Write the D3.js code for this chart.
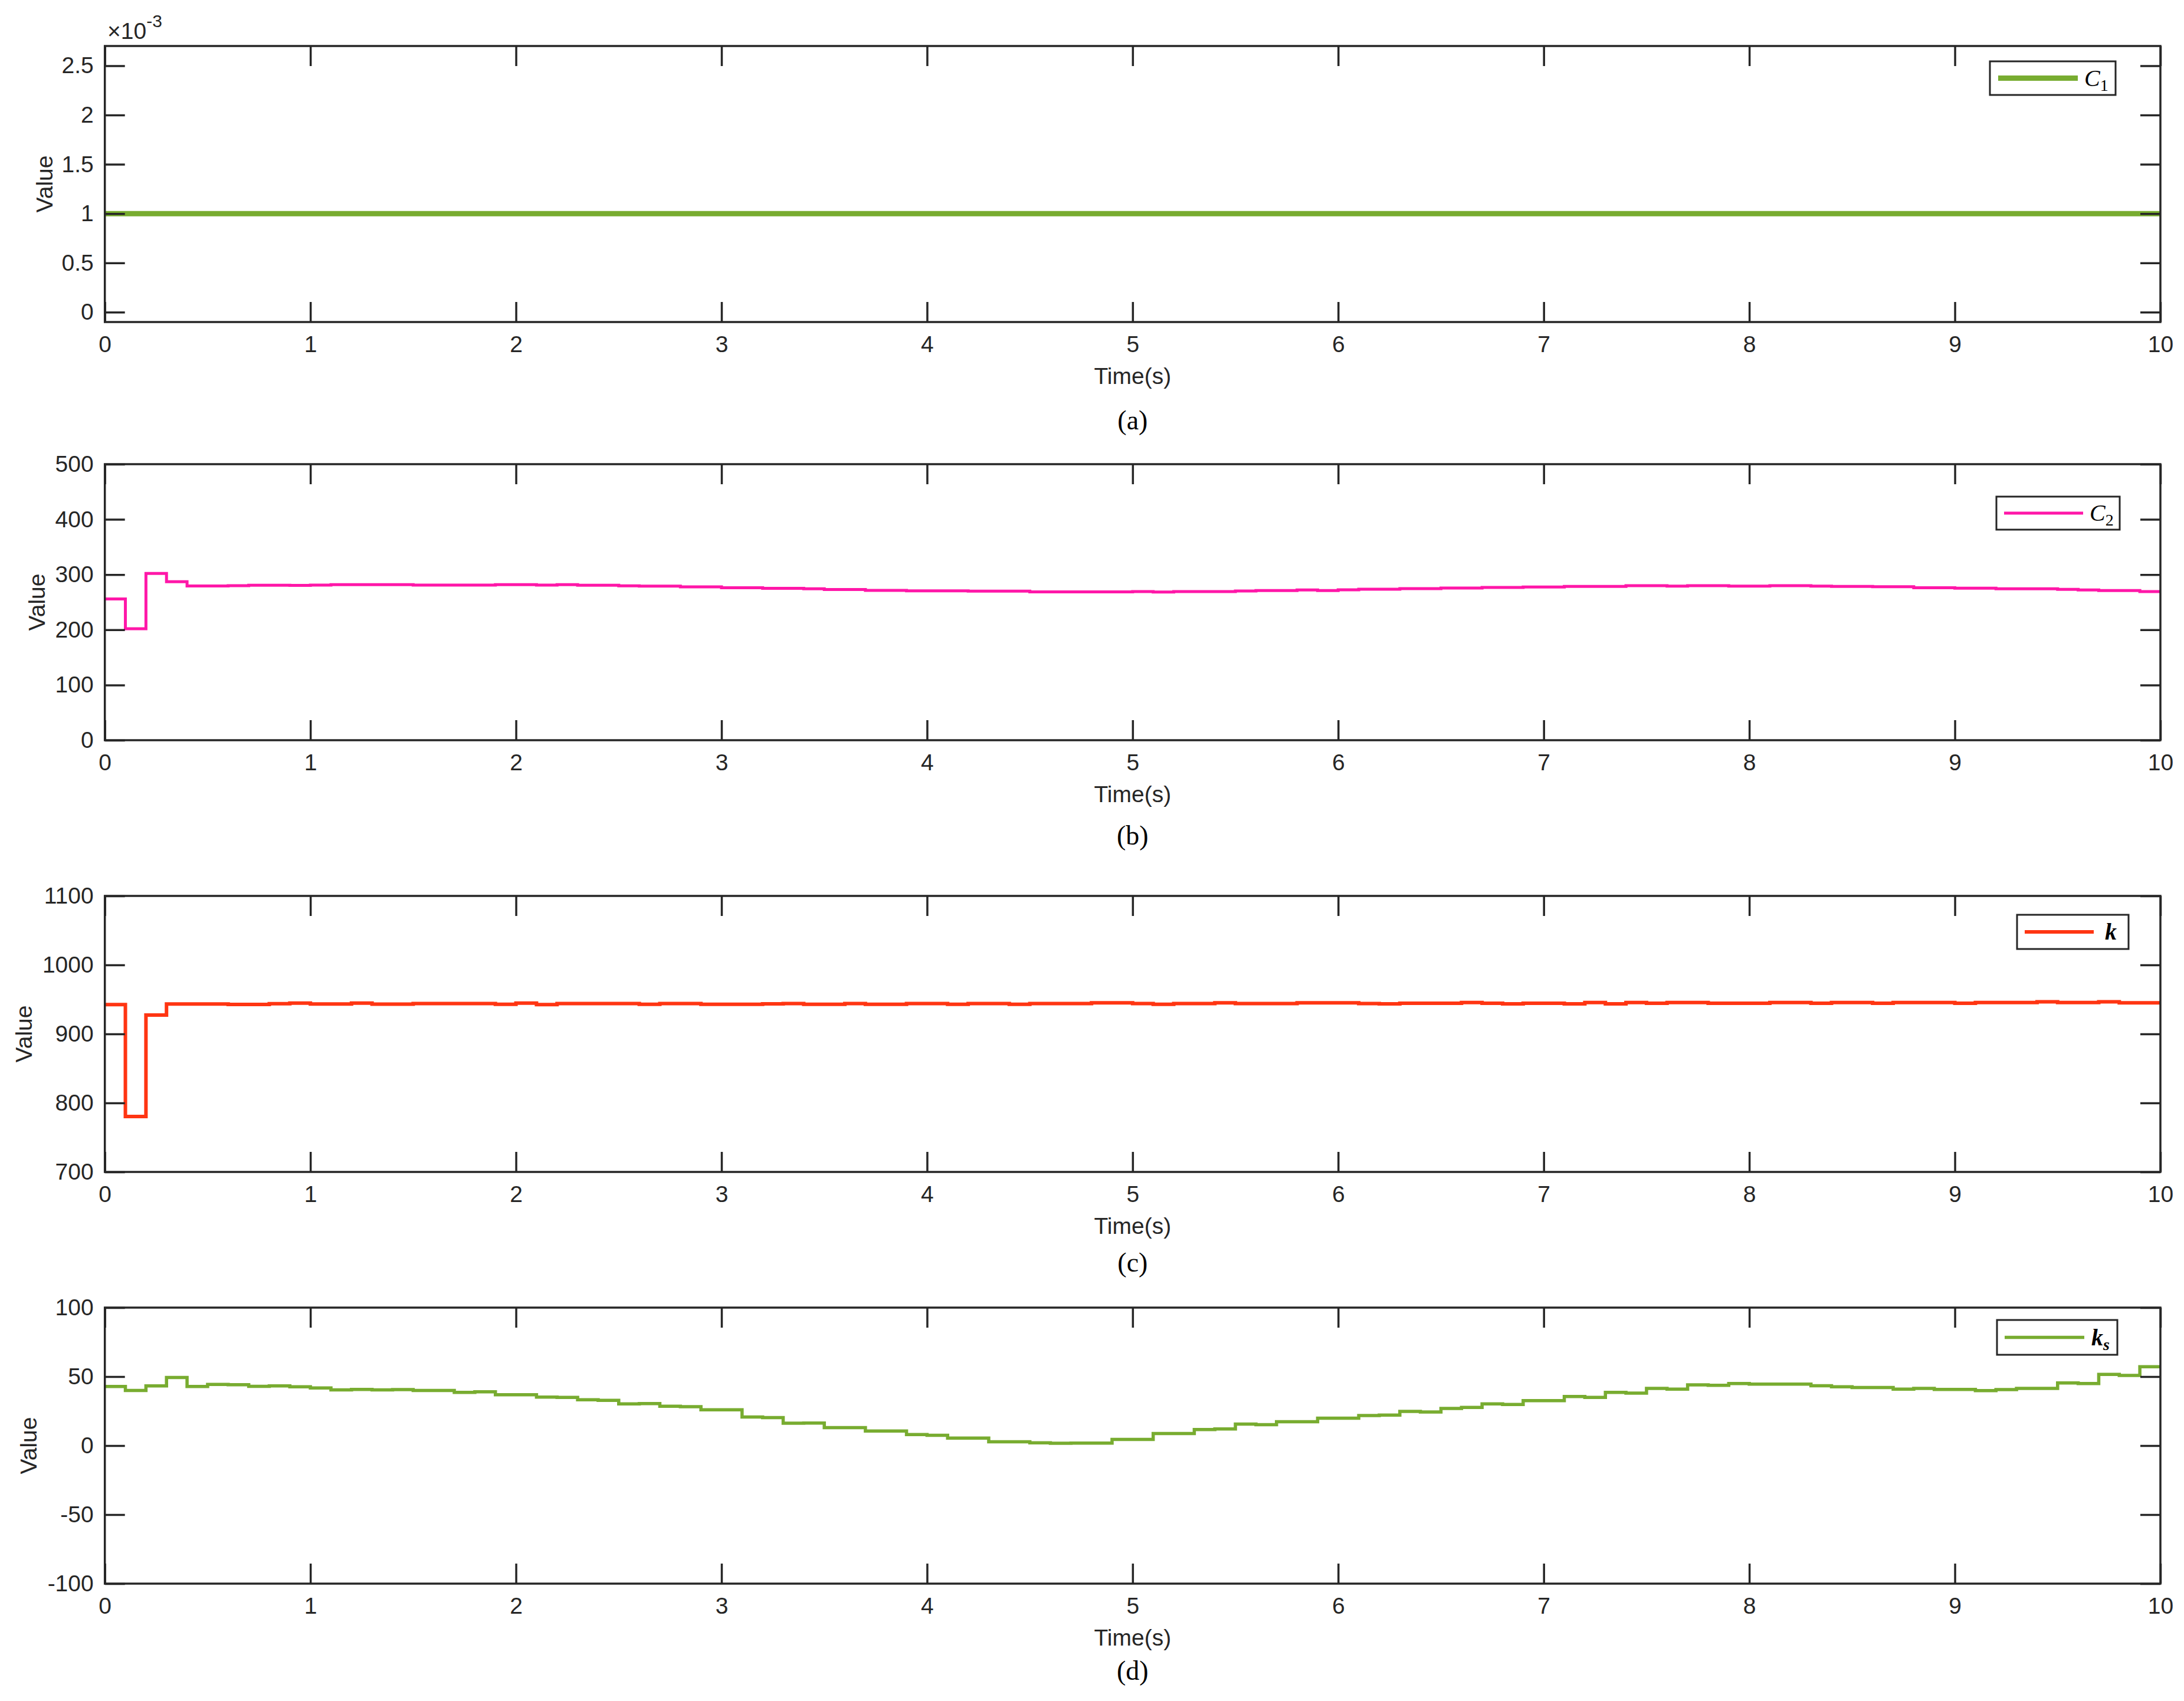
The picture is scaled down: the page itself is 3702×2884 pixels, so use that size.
<!DOCTYPE html>
<html><head><meta charset="utf-8">
<script src="https://cdn.jsdelivr.net/npm/d3@7"></script>
<style>body{margin:0;background:#fff}</style>
</head><body>
<svg id="chart" width="3702" height="2884" xmlns="http://www.w3.org/2000/svg"></svg>
<script>
// ---------------- DATA ----------------
const xTicks = [0, 1, 2, 3, 4, 5, 6, 7, 8, 9, 10];
const xDomain = [0, 10];
// zero-order-hold samples every 0.1 s (step start times)
const sampleTimes = d3.range(0, 100).map(i => i / 10);

const c1Times = [0, 10];
const c1Values = [0.001, 0.001];

const c2Values = [
  256, 202, 302, 287, 279.5, 279.5, 279.9, 280.6, 280.6, 280.4,
  280.9, 281.8, 281.8, 281.8, 281.8, 281.1, 281.1, 281.1, 280.9, 281.8,
  281.8, 280.9, 281.8, 280.6, 280.6, 279.7, 279.0, 279.0, 277.9, 277.9,
  276.3, 276.3, 275.2, 275.2, 274.3, 272.9, 272.9, 271.5, 271.5, 270.6,
  270.6, 270.6, 269.9, 269.9, 269.9, 268.8, 268.8, 268.8, 268.8, 268.8,
  269.3, 268.3, 269.2, 269.2, 269.2, 270.3, 271.1, 271.1, 272.2, 271.0,
  272.4, 273.5, 273.5, 274.5, 274.5, 275.6, 275.6, 276.7, 276.7, 277.5,
  277.5, 278.6, 278.6, 278.6, 280.0, 280.0, 279.2, 280.0, 280.0, 279.0,
  279.0, 280.0, 280.0, 279.0, 278.5, 278.5, 278.0, 278.0, 276.3, 276.3,
  275.4, 275.4, 274.4, 274.4, 274.4, 273.3, 272.2, 271.1, 271.1, 269.3
];

const kValues = [
  942.6, 780.3, 927.4, 943.3, 943.4, 943.4, 942.8, 942.8, 943.9, 944.7,
  943.4, 943.4, 944.7, 943.2, 943.2, 944.0, 944.0, 944.0, 944.0, 943.0,
  944.7, 942.5, 944.0, 944.0, 944.0, 944.0, 943.0, 944.0, 944.0, 943.0,
  943.0, 943.0, 943.5, 944.0, 943.0, 943.0, 944.0, 943.0, 943.0, 944.0,
  944.0, 943.0, 944.0, 944.0, 943.0, 944.0, 944.0, 944.0, 945.0, 945.0,
  944.0, 943.0, 944.0, 944.0, 945.0, 944.0, 944.0, 944.0, 945.0, 945.0,
  945.0, 944.0, 943.5, 944.5, 944.5, 944.5, 945.5, 944.5, 943.5, 944.5,
  944.5, 943.5, 945.5, 943.5, 945.5, 944.5, 945.5, 945.5, 944.5, 944.5,
  944.5, 945.5, 945.5, 944.5, 945.5, 945.5, 944.5, 945.5, 945.5, 945.5,
  944.5, 945.5, 945.5, 945.5, 946.5, 945.5, 945.5, 946.5, 945.0, 945.0
];

const ksValues = [
  42.8, 40.0, 43.3, 49.4, 42.8, 44.3, 44.1, 43.0, 43.3, 42.6,
  41.8, 40.4, 40.7, 40.4, 40.6, 40.0, 40.0, 38.6, 39.0, 36.9,
  36.9, 35.2, 34.9, 33.2, 32.8, 30.2, 30.5, 28.5, 28.2, 26.0,
  26.0, 20.7, 20.3, 16.2, 16.3, 13.0, 13.0, 10.6, 10.6, 8.0,
  7.5, 5.4, 5.4, 2.8, 2.8, 2.0, 1.7, 1.8, 1.8, 4.5,
  4.5, 8.8, 8.8, 11.6, 12.1, 15.6, 15.2, 17.3, 17.3, 19.9,
  19.9, 21.8, 22.1, 24.8, 24.4, 26.9, 27.7, 30.2, 29.8, 32.6,
  32.6, 35.6, 34.9, 38.6, 38.0, 41.4, 40.9, 44.0, 43.7, 45.0,
  44.5, 44.5, 44.5, 43.4, 42.6, 42.1, 42.1, 40.9, 41.4, 40.7,
  40.7, 39.9, 40.6, 41.4, 41.4, 45.4, 45.0, 51.6, 50.9, 57.2
];

const c1Ticks = [0, 0.0005, 0.001, 0.0015, 0.002, 0.0025];
const c2Ticks = [0, 100, 200, 300, 400, 500];
const kTicks = [700, 800, 900, 1000, 1100];
const ksTicks = [-100, -50, 0, 50, 100];

const c1Domain = [-0.0001, 0.0027];
const c2Domain = [0, 500];
const kDomain = [700, 1100];
const ksDomain = [-100, 100];

const panelLabels = ["(a)", "(b)", "(c)", "(d)"];
const xLabel = "Time(s)";
const yLabel = "Value";

// ---------------- LAYOUT ----------------
const axisColor = "#262626";
const sans = "'Liberation Sans', Arial, sans-serif";
const serif = "'Liberation Serif', 'Times New Roman', serif";
const left = 177.7, right = 3662, panelH = 468;
const tickLen = 34, fontSize = 39;
const plainFmt = v => String(v);

const panels = [
  { top: 78, times: c1Times, values: c1Values, domain: c1Domain, ticks: c1Ticks,
    fmt: v => String(+(v * 1000).toFixed(4)), color: "#78AC30", width: 9,
    ylabX: 89, capY: 728,
    legend: { x: 3373, y: 104, w: 213, h: 57, lx1: 3387, lx2: 3522, tx: 3533, main: "C", sub: "1", bold: false } },
  { top: 787, times: sampleTimes, values: c2Values, domain: c2Domain, ticks: c2Ticks,
    fmt: plainFmt, color: "#FF17A8", width: 5,
    ylabX: 76, capY: 1432,
    legend: { x: 3384, y: 842, w: 209, h: 56, lx1: 3397, lx2: 3531, tx: 3542, main: "C", sub: "2", bold: false } },
  { top: 1519, times: sampleTimes, values: kValues, domain: kDomain, ticks: kTicks,
    fmt: plainFmt, color: "#FF3512", width: 6,
    ylabX: 54, capY: 2156,
    legend: { x: 3419, y: 1551, w: 189, h: 58, lx1: 3432, lx2: 3549, tx: 3568, main: "k", sub: "", bold: true } },
  { top: 2217, times: sampleTimes, values: ksValues, domain: ksDomain, ticks: ksTicks,
    fmt: plainFmt, color: "#78AC30", width: 5.5,
    ylabX: 62, capY: 2848,
    legend: { x: 3385, y: 2238, w: 204, h: 59, lx1: 3398, lx2: 3533, tx: 3545, main: "k", sub: "s", bold: true } }
];

const svg = d3.select("#chart");
svg.append("rect").attr("width", 3702).attr("height", 2884).attr("fill", "#fff");

const x = d3.scaleLinear().domain(xDomain).range([left, right]);

panels.forEach((p, pi) => {
  const top = p.top, bottom = p.top + panelH;
  const y = d3.scaleLinear().domain(p.domain).range([bottom, top]);
  const g = svg.append("g");

  // data line (step / zero-order hold)
  const pts = p.times.map((t, i) => [t, p.values[i]]);
  pts.push([xDomain[1], p.values[p.values.length - 1]]);
  const line = d3.line().x(d => x(d[0])).y(d => y(d[1]))
    .curve(p.times.length > 2 ? d3.curveStepAfter : d3.curveLinear);
  g.append("path").attr("d", line(pts)).attr("fill", "none")
    .attr("stroke", p.color).attr("stroke-width", p.width)
    .attr("stroke-linejoin", "miter");

  // axes with inward ticks on all four sides
  const fontAttrs = sel => sel.attr("font-family", sans).attr("font-size", fontSize).attr("fill", axisColor);

  const xb = g.append("g").attr("transform", `translate(0,${bottom})`)
    .call(d3.axisBottom(x).tickValues(xTicks).tickSizeInner(-tickLen).tickSizeOuter(0).tickPadding(10).tickFormat(plainFmt));
  const xt = g.append("g").attr("transform", `translate(0,${top})`)
    .call(d3.axisTop(x).tickValues(xTicks).tickSizeInner(-tickLen).tickSizeOuter(0).tickFormat(""));
  const yl = g.append("g").attr("transform", `translate(${left},0)`)
    .call(d3.axisLeft(y).tickValues(p.ticks).tickSizeInner(-tickLen).tickSizeOuter(0).tickPadding(19).tickFormat(p.fmt));
  const yr = g.append("g").attr("transform", `translate(${right},0)`)
    .call(d3.axisRight(y).tickValues(p.ticks).tickSizeInner(-tickLen).tickSizeOuter(0).tickFormat(""));
  [xb, xt, yl, yr].forEach(a => {
    a.select(".domain").remove();
    a.selectAll(".tick line").attr("stroke", axisColor).attr("stroke-width", 3.5);
    a.selectAll("text").call(fontAttrs);
  });
  xb.selectAll("text").attr("dy", null).attr("y", 51).attr("dominant-baseline", "auto");

  // box
  g.append("rect").attr("x", left).attr("y", top).attr("width", right - left).attr("height", panelH)
    .attr("fill", "none").attr("stroke", axisColor).attr("stroke-width", 3.5);

  // labels
  g.append("text").attr("x", (left + right) / 2).attr("y", bottom + 105)
    .attr("text-anchor", "middle").text(xLabel).call(fontAttrs);
  g.append("text").attr("transform", `translate(${p.ylabX},${(top + bottom) / 2}) rotate(-90)`)
    .attr("text-anchor", "middle").text(yLabel).call(fontAttrs);
  g.append("text").attr("x", (left + right) / 2).attr("y", p.capY)
    .attr("text-anchor", "middle").attr("font-family", serif).attr("font-size", 46)
    .attr("fill", "#000").text(panelLabels[pi]);

  // exponent label for panel (a)
  if (pi === 0) {
    const ex = g.append("text").attr("x", 182).attr("y", 66).call(fontAttrs);
    ex.append("tspan").text("\u00D710");
    ex.append("tspan").attr("dy", -20).attr("font-size", 30).text("-3");
  }

  // legend
  const L = p.legend;
  g.append("rect").attr("x", L.x).attr("y", L.y).attr("width", L.w).attr("height", L.h)
    .attr("fill", "#fff").attr("stroke", axisColor).attr("stroke-width", 3);
  const ly = L.y + L.h / 2;
  g.append("line").attr("x1", L.lx1).attr("x2", L.lx2).attr("y1", ly).attr("y2", ly)
    .attr("stroke", p.color).attr("stroke-width", p.width);
  const lt = g.append("text").attr("x", L.tx).attr("y", ly + 13)
    .attr("font-family", serif).attr("font-size", 40).attr("fill", "#000");
  lt.append("tspan").attr("font-style", "italic").attr("font-weight", L.bold ? "bold" : "normal").text(L.main);
  if (L.sub) {
    lt.append("tspan").attr("dy", 8).attr("font-size", 28)
      .attr("font-style", L.sub === "s" ? "italic" : "normal")
      .attr("font-weight", L.bold ? "bold" : "normal").text(L.sub);
  }
});
</script>
</body></html>
